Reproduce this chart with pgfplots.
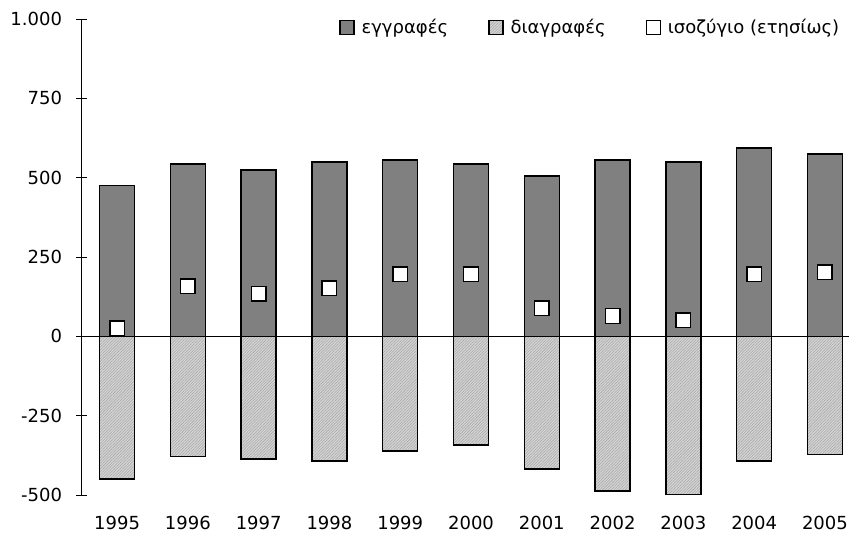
\documentclass[border=0pt]{standalone}
\usepackage{fontspec}
\setmainfont{DejaVu Sans}
\usepackage{pgfplots}
\pgfplotsset{compat=1.18}
\usetikzlibrary{patterns.meta}
\definecolor{reg}{HTML}{808080}
\definecolor{dellight}{HTML}{D4D4D4}
\definecolor{delhatch}{HTML}{A8A8A8}
\pgfplotstableread{
x reg del bal
0 475 -449 26
1 543 -379 158
2 524 -386 134
3 549 -393 152
4 556 -361 196
5 543 -342 196
6 505 -418 89
7 556 -487 64
8 549 -499 51
9 593 -393 196
10 575 -373 202
}\datatable
\begin{document}
\fontsize{18}{21.6}\selectfont
\begin{tikzpicture}
\begin{axis}[
  scale only axis, width=767.3pt, height=476pt,
  xmin=-0.5, xmax=10.34, ymin=-500, ymax=1000,
  axis y line*=left, axis x line*=bottom,
  x axis line style={draw=none},
  y axis line style={black, line width=0.8pt},
  ytick={-500,-250,0,250,500,750,1000},
  yticklabels={-500,-250,0,250,500,750,1.000},
  xtick={0,1,2,3,4,5,6,7,8,9,10},
  xticklabels={1995,1996,1997,1998,1999,2000,2001,2002,2003,2004,2005},
  major x tick style={draw=none},
  y tick style={black, line width=0.8pt},
  major tick length=11pt, tick align=center,
  tick label style={font=\fontsize{18}{21.6}\selectfont},
  xticklabel style={yshift=-9pt},
  yticklabel style={xshift=-8pt},
  clip=false,
  legend style={at={(axis description cs:0.994,1.009)}, anchor=north east,
    draw=none, fill=none, legend columns=3,
    font=\fontsize{18}{21.6}\selectfont,
    /tikz/every odd column/.append style={column sep=5pt},
    /tikz/every even column/.append style={column sep=38pt}},
  legend cell align=left,
]
\addplot[ybar, bar width=35pt, bar shift=0pt, fill=reg, draw=black, line width=1.5pt,
  legend image code/.code={\draw[fill=reg, draw=black, line width=1.1pt] (0pt,-7pt) rectangle (14pt,7pt);}]
  table[x=x, y=reg] {\datatable};
\addlegendentry{εγγραφές}
\addplot[ybar, bar width=35pt, bar shift=0pt, fill=dellight, draw=none, forget plot]
  table[x=x, y=del] {\datatable};
\addplot[ybar, bar width=35pt, bar shift=0pt, draw=none, forget plot,
  pattern={Lines[angle=45,distance=2pt,line width=0.55pt]}, pattern color=delhatch]
  table[x=x, y=del] {\datatable};
\addplot[ybar, bar width=35pt, bar shift=0pt, fill=none, draw=black, line width=1.5pt,
  legend image code/.code={%
    \fill[dellight] (0pt,-7pt) rectangle (14pt,7pt);
    \fill[pattern={Lines[angle=45,distance=2pt,line width=0.55pt]}, pattern color=delhatch] (0pt,-7pt) rectangle (14pt,7pt);
    \draw[black, line width=1.1pt] (0pt,-7pt) rectangle (14pt,7pt);}]
  table[x=x, y=del] {\datatable};
\addlegendentry{διαγραφές}
\addplot[black, line width=0.8pt, forget plot] coordinates {(-0.5,0) (10.34,0)};
\addplot[only marks, mark=square*, mark size=7.3pt, mark options={fill=white, draw=black, line width=1.5pt},
  legend image code/.code={\draw[fill=white, draw=black, line width=1.2pt] (0pt,-7pt) rectangle (14pt,7pt);}]
  table[x=x, y=bal] {\datatable};
\addlegendentry{ισοζύγιο (ετησίως)}
\end{axis}
\pgfresetboundingbox
\path ([shift={(-81.7pt,-43pt)}]current axis.south west) rectangle ([shift={(0pt,19pt)}]current axis.north east);
\end{tikzpicture}
\end{document}
